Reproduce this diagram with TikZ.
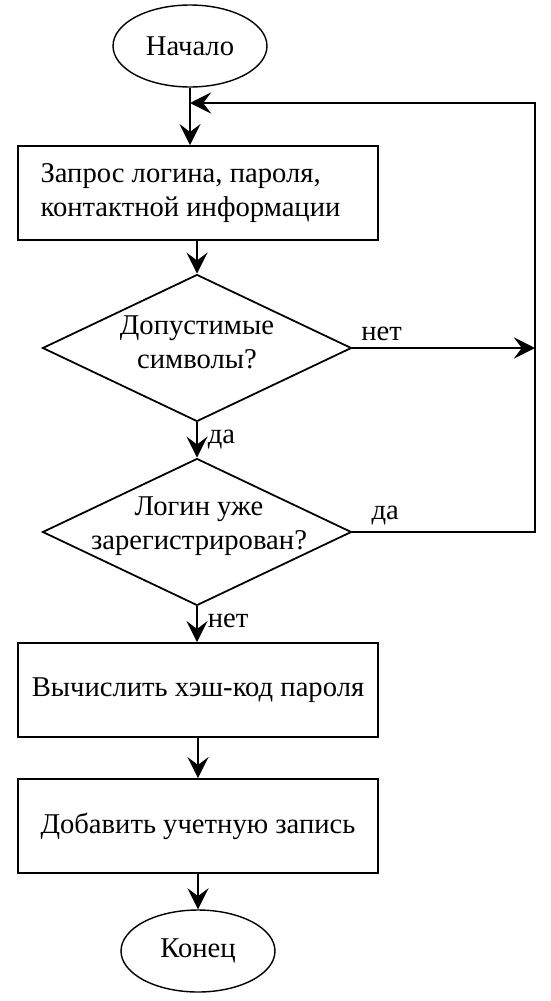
\documentclass[tikz,border=0pt]{standalone}
\usepackage{fontspec}
\setmainfont{Liberation Serif}
\usetikzlibrary{shapes.geometric,arrows.meta}
\tikzset{
  term/.style={ellipse, draw, line width=0.8pt, minimum width=3.08cm, minimum height=1.64cm},
  proc/.style={rectangle, draw, line width=1pt, minimum width=7.2cm, minimum height=1.88cm},
  cond/.style={diamond, draw, line width=1pt, minimum width=6.18cm, minimum height=2.94cm, inner sep=0pt},
  wire/.style={line width=1.6pt},
  flow/.style={wire, -{Stealth[length=12pt,width=12pt,inset=4.5pt]}}
}
\begin{document}
\begin{tikzpicture}[x=0.02cm, y=-0.02cm, font=\fontsize{16.3}{19.5}\selectfont]
	\useasboundingbox (0,0) rectangle (551,1001);
	\node[term] (start) at (190,46) {Начало};
	\node[proc, align=flush left, text width=6.3cm] (ask) at (198,193) {Запрос логина, пароля,\\контактной информации};
	\node[cond] (chars) at (197,348) {};
	\node[align=center] (charst) at (197,342) {Допустимые\\символы?};
	\node[cond] (login) at (197,532) {};
	\node[align=center] (logint) at (199,526) {Логин уже\\зарегистрирован?};
	\node[proc] (hash) at (198,690) {Вычислить хэш-код пароля};
	\node[proc] (add) at (198,826) {Добавить учетную запись};
	\node[term] (end) at (198,951) {Конец};
	\coordinate (rt) at (535,103);
	% main line
	\draw[flow] (start.south) -- (start.south |- ask.north);
	\draw[flow] (ask.south -| chars.north) -- (chars.north);
	\draw[flow] (chars.south) -- node[right, xshift=2pt] (yes1) {да} (login.north);
	\draw[flow] (login.south) -- node[right, xshift=2pt, yshift=2pt] (no2) {нет} (login.south |- hash.north);
	\draw[flow] (hash.south -| add.north) -- (add.north);
	\draw[flow] (add.south) -- (end.north);
	% back to the request
	\draw[flow] (chars.east) -- node[above, pos=0.16] (no1) {нет} (chars.east -| rt);
	\draw[flow] (login.east) -- node[above, pos=0.18] (yes2) {да} (login.east -| rt) -- (rt) -- (start.south |- rt);
\end{tikzpicture}
\end{document}
